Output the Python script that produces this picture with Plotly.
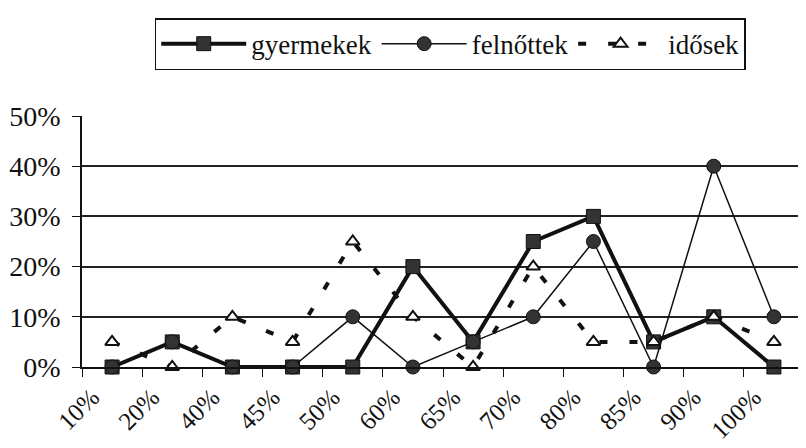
import plotly.graph_objects as go

# Kategorien und Werte (in %)
kategorien = ["10%", "20%", "40%", "45%", "50%", "60%", "65%", "70%", "80%", "85%", "90%", "100%"]
gyermekek = [0, 5, 0, 0, 0, 20, 5, 25, 30, 5, 10, 0]
felnottek = [0, 5, 0, 0, 10, 0, 5, 10, 25, 0, 40, 10]
idosek = [5, 0, 10, 5, 25, 10, 0, 20, 5, 5, 10, 5]
y_ticks = [0, 10, 20, 30, 40, 50]

SERIF = 'Liberation Serif'

fig = go.Figure()

# gyermekek - dicke Linie mit Quadraten
fig.add_trace(go.Scatter(x=kategorien, y=gyermekek, mode='lines+markers', name='gyermekek',
                         line=dict(color='#111111', width=4),
                         marker=dict(symbol='square', size=14, color='#333333', line=dict(color='#111111', width=1)),
                         cliponaxis=False))

# felnőttek - dünne Linie mit Kreisen
fig.add_trace(go.Scatter(x=kategorien, y=felnottek, mode='lines+markers', name='felnőttek',
                         line=dict(color='#111111', width=1.5),
                         marker=dict(symbol='circle', size=14, color='#333333', line=dict(color='#111111', width=1)),
                         cliponaxis=False))

# idősek - gestrichelt mit offenen Dreiecken
fig.add_trace(go.Scatter(x=kategorien, y=idosek, mode='lines+markers', name='idősek',
                         line=dict(color='#111111', width=4, dash='8px,22px'),
                         marker=dict(symbol='triangle-up', size=12, color='white', line=dict(color='#111111', width=2)),
                         cliponaxis=False))

# Seite hat 8px Rand, daher Ränder etwas kleiner; automargin aus, damit die Plotfläche fest bleibt
fig.update_layout(
    width=806, height=448,
    margin=dict(l=74, r=10, t=102, b=89),
    plot_bgcolor='white', paper_bgcolor='white',
    font=dict(family=SERIF, size=26, color='#111111'),
    showlegend=True,
    legend=dict(orientation='h', x=0.51, xanchor='center', y=1.39, yanchor='top',
                bordercolor='#111111', borderwidth=1.5, itemwidth=85,
                font=dict(family=SERIF, size=27)),
    xaxis=dict(type='category', range=[-0.5, len(kategorien) - 0.5],
               showgrid=False, showline=True, linecolor='#111111', linewidth=1.5,
               ticks='outside', tickson='boundaries', ticklen=8, tickcolor='#111111',
               tickangle=-45, tickfont=dict(family=SERIF, size=25),
               ticklabelshift=-20, ticklabelstandoff=4, automargin=False),
    yaxis=dict(range=[0, 50], tickvals=y_ticks, ticktext=[f"{v}%" for v in y_ticks],
               tickfont=dict(family=SERIF, size=28), ticklabelstandoff=6, automargin=False,
               showgrid=True, gridcolor='#222222', gridwidth=1.5,
               showline=True, linecolor='#111111', linewidth=1.5,
               ticks='outside', ticklen=8, tickcolor='#111111', zeroline=False),
)

fig.write_html("out.html")
